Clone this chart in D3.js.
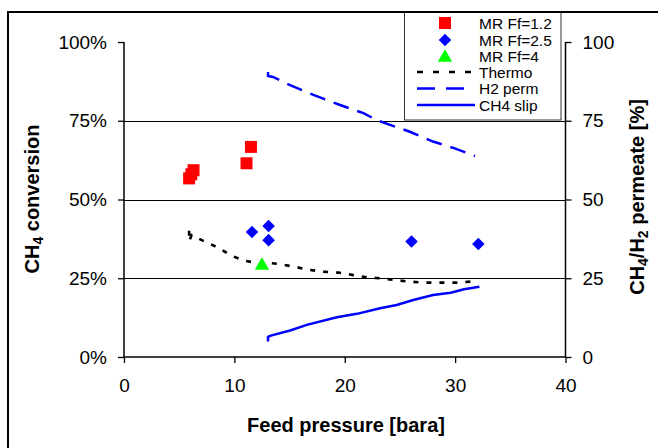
<!DOCTYPE html>
<html><head><meta charset="utf-8">
<script src="https://cdn.jsdelivr.net/npm/d3@7"></script>
<style>
html,body{margin:0;padding:0;background:#fff;}
svg{display:block;font-family:"Liberation Sans",Arial,sans-serif;}
</style></head>
<body>
<svg id="c" width="658" height="448"></svg>
<script>
// ---- data ----
const xTicks = [0, 10, 20, 30, 40];
const yLeftTicks = [0, 25, 50, 75, 100];
const yRightTicks = [0, 25, 50, 75, 100];
const gridTicks = [25, 50, 75];

const mr12X = [5.9, 6.1, 6.3, 11.1, 11.5];
const mr12Y = [56.7, 58.0, 59.3, 61.5, 66.7];
const mr25X = [11.6, 13.1, 13.1, 26.05, 32.1];
const mr25Y = [39.7, 41.6, 37.1, 36.7, 35.9];
const mr4X = [12.5];
const mr4Y = [29.0];

const thermoX = [5.9, 5.9, 6.13, 7.34, 8.55, 9.61, 10.82, 12.33, 13.08, 14.14, 15.66, 16.86, 18.07, 19.43, 20.79, 22.0, 23.2, 24.7, 25.9, 27.4, 28.65, 30.2, 31.6];
const thermoY = [40.1, 36.7, 38.7, 36.6, 34.7, 32.4, 30.6, 29.7, 29.9, 29.5, 28.5, 27.6, 27.1, 26.8, 26.0, 25.3, 25.0, 24.4, 23.9, 23.6, 23.6, 23.6, 24.0];

const h2X = [13.05, 13.05, 13.5, 15.05, 17.16, 19.58, 21.7, 22.9, 24.1, 25.9, 28.0, 29.9, 31.8];
const h2Y = [90.5, 89.2, 88.9, 86.3, 83.2, 80.0, 77.4, 75.2, 73.7, 71.5, 68.4, 66.3, 63.8];

const slipX = [13.05, 13.05, 13.3, 15.05, 16.56, 19.28, 21.1, 23.2, 24.7, 26.2, 28.0, 29.6, 30.8, 32.2];
const slipY = [4.9, 6.4, 6.8, 8.4, 10.2, 12.6, 13.7, 15.5, 16.5, 18.1, 19.7, 20.4, 21.5, 22.3];

const legendLabels = ["MR Ff=1.2", "MR Ff=2.5", "MR Ff=4", "Thermo", "H2 perm", "CH4 slip"];

// ---- layout ----
const svg = d3.select("#c");
const L = 124, R = 565.5, T = 42, B = 357;
const x = d3.scaleLinear().domain([0, 40]).range([L, R]);
const yL = d3.scaleLinear().domain([0, 1]).range([B, T]);
const yR = d3.scaleLinear().domain([0, 100]).range([B, T]);

// outer frame
svg.append("rect").attr("x", 8).attr("y", 12).attr("width", 700).attr("height", 500)
  .attr("fill", "none").attr("stroke", "#000").attr("stroke-width", 2);

// grid
svg.append("g").selectAll("line").data(gridTicks).join("line")
  .attr("x1", L).attr("x2", R).attr("y1", d => Math.round(yR(d)) + 0.5).attr("y2", d => Math.round(yR(d)) + 0.5)
  .attr("stroke", "#000").attr("stroke-width", 1);

// axes
const fs = "19px";
const gx = svg.append("g").attr("transform", `translate(0,${B})`)
  .call(d3.axisBottom(x).tickValues(xTicks).tickSize(6).tickPadding(16));
const gyl = svg.append("g").attr("transform", `translate(${L},0)`)
  .call(d3.axisLeft(yL).tickValues(yLeftTicks.map(d => d / 100)).tickFormat(d => Math.round(d * 100) + "%").tickSize(6).tickPadding(11));
const gyr = svg.append("g").attr("transform", `translate(${R},0)`)
  .call(d3.axisRight(yR).tickValues(yRightTicks).tickSize(6).tickPadding(11));
[gx, gyl, gyr].forEach(g => {
  g.selectAll("text").attr("font-size", fs).attr("fill", "#000").attr("font-family", "Liberation Sans, Arial, sans-serif");
  g.selectAll("line,path").attr("stroke", "#000").attr("stroke-width", 1.3);
  g.select(".domain").attr("d", null);
});
// axis lines
svg.append("line").attr("x1", L).attr("x2", L).attr("y1", T).attr("y2", B).attr("stroke", "#000").attr("stroke-width", 1.5);
svg.append("line").attr("x1", R).attr("x2", R).attr("y1", T).attr("y2", B).attr("stroke", "#000").attr("stroke-width", 1.5);
svg.append("line").attr("x1", L).attr("x2", R).attr("y1", B).attr("y2", B).attr("stroke", "#000").attr("stroke-width", 1.5);

// lines
const mk = (xs, ys) => xs.map((v, i) => [v, ys[i]]);
const line = d3.line().x(d => x(d[0])).y(d => yR(d[1]));
svg.append("path").datum(mk(thermoX, thermoY)).attr("d", line)
  .attr("fill", "none").attr("stroke", "#000").attr("stroke-width", 2.6).attr("stroke-dasharray", "5,8");
svg.append("path").datum(mk(h2X, h2Y)).attr("d", line)
  .attr("fill", "none").attr("stroke", "#0000ff").attr("stroke-width", 2.5).attr("stroke-dasharray", "16,9");
svg.append("path").datum(mk(slipX, slipY)).attr("d", line)
  .attr("fill", "none").attr("stroke", "#0000ff").attr("stroke-width", 2.5);

// markers
const sq = d3.symbol().type(d3.symbolSquare).size(144);
const di = d3.symbol().type(d3.symbolDiamond2 || d3.symbolSquare).size(100);
const tr = d3.symbol().type(d3.symbolTriangle).size(90);
svg.append("g").selectAll("path").data(mk(mr12X, mr12Y)).join("path")
  .attr("d", sq).attr("transform", d => `translate(${x(d[0])},${yR(d[1])})`).attr("fill", "#ff0000");
svg.append("g").selectAll("path").data(mk(mr25X, mr25Y)).join("path")
  .attr("d", di).attr("transform", d => `translate(${x(d[0])},${yR(d[1])})`).attr("fill", "#0000ff");
svg.append("g").selectAll("path").data(mk(mr4X, mr4Y)).join("path")
  .attr("d", tr).attr("transform", d => `translate(${x(d[0])},${yR(d[1])})`).attr("fill", "#00ff00");

// axis titles
svg.append("text").attr("x", 346).attr("y", 432).attr("text-anchor", "middle")
  .attr("font-size", "20px").attr("font-weight", "bold").text("Feed pressure [bara]");
const lt = svg.append("text").attr("transform", "translate(39,199) rotate(-90)").attr("text-anchor", "middle")
  .attr("font-size", "20px").attr("font-weight", "bold");
lt.append("tspan").text("CH");
lt.append("tspan").attr("font-size", "14px").attr("dy", 4).text("4");
lt.append("tspan").attr("dy", -4).text(" conversion");
const rt = svg.append("text").attr("transform", "translate(644,197) rotate(-90)").attr("text-anchor", "middle")
  .attr("font-size", "20px").attr("font-weight", "bold");
rt.append("tspan").text("CH");
rt.append("tspan").attr("font-size", "14px").attr("dy", 4).text("4");
rt.append("tspan").attr("dy", -4).text("/H");
rt.append("tspan").attr("font-size", "14px").attr("dy", 4).text("2");
rt.append("tspan").attr("dy", -4).text(" permeate [%]");

// legend
const lg = svg.append("g");
lg.append("rect").attr("x", 404.5).attr("y", 12).attr("width", 156.5).attr("height", 108)
  .attr("fill", "#fff").attr("stroke", "#333").attr("stroke-width", 1);
svg.append("line").attr("x1", 8).attr("x2", 658).attr("y1", 12).attr("y2", 12).attr("stroke", "#000").attr("stroke-width", 2);
const rows = [23, 40, 56, 72, 88.5, 105];
const mx = 445;
legendLabels.forEach((t, i) => {
  lg.append("text").attr("x", 479).attr("y", rows[i]).attr("dy", "0.36em")
    .attr("font-size", "15.5px").text(t);
});
lg.append("path").attr("d", sq).attr("transform", `translate(${mx},${rows[0]})`).attr("fill", "#ff0000");
lg.append("path").attr("d", di).attr("transform", `translate(${mx},${rows[1]})`).attr("fill", "#0000ff");
lg.append("path").attr("d", tr).attr("transform", `translate(${mx},${rows[2] + 1.5})`).attr("fill", "#00ff00");
lg.append("line").attr("x1", 417).attr("x2", 475).attr("y1", rows[3]).attr("y2", rows[3])
  .attr("stroke", "#000").attr("stroke-width", 2.5).attr("stroke-dasharray", "6,10");
lg.append("line").attr("x1", 417).attr("x2", 475).attr("y1", rows[4]).attr("y2", rows[4])
  .attr("stroke", "#0000ff").attr("stroke-width", 2.5).attr("stroke-dasharray", "18,11");
lg.append("line").attr("x1", 417).attr("x2", 475).attr("y1", rows[5]).attr("y2", rows[5])
  .attr("stroke", "#0000ff").attr("stroke-width", 2.5);
</script>
</body></html>
